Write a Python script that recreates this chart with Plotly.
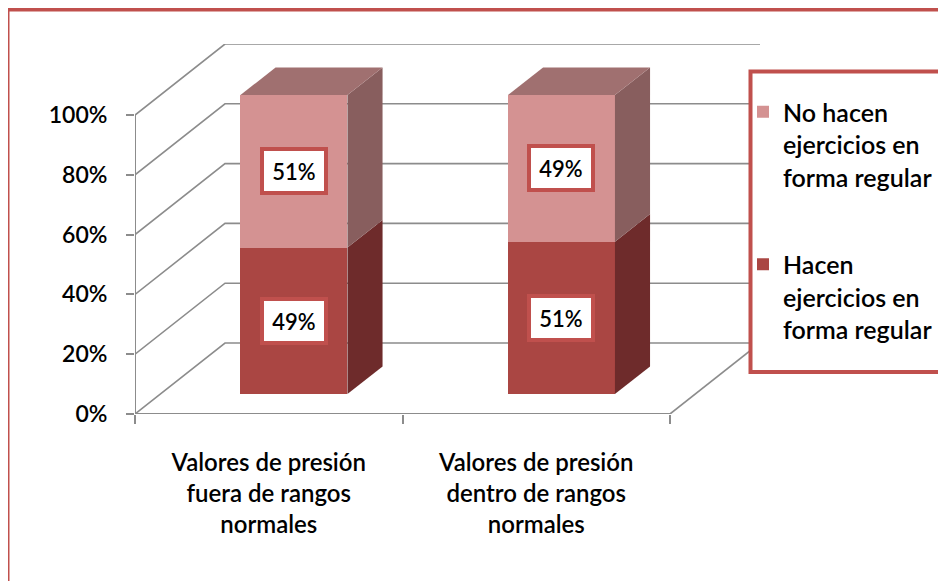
import plotly.graph_objects as go

# datos
categorias = [
    "Valores de presión<br>fuera de rangos<br>normales",
    "Valores de presión<br>dentro de rangos<br>normales",
]
hacen = [49, 51]
no_hacen = [51, 49]
nombre_hacen = "Hacen<br>ejercicios en<br>forma regular"
nombre_no_hacen = "No hacen<br>ejercicios en<br>forma regular"
ticks_y = [0, 20, 40, 60, 80, 100]

# geometria del "3D" (proyeccion oblicua en unidades de datos)
OFF = 8                  # margen del <body> de la pagina
L, T, PW, PH = 135 - OFF, 44 - OFF, 625, 370
PPU_X = 267.5
PPU_Y = 2.99
DX = 90 / PPU_X          # profundidad del piso en x
DY = 71 / PPU_Y          # profundidad del piso en y
DF, DB = 0.28, 0.67      # frente / fondo de las barras
BW = 0.4

ROJO = "#C0504D"
GRIS = "#8C8C8C"
C_HACEN = "#AA4643"
C_HACEN_LADO = "#6E2B2B"
C_NO = "#D49292"
C_NO_LADO = "#885E5E"
C_TAPA = "#A07070"
FUENTE = "Lato, 'Open Sans', sans-serif"
PESO = 600


def px_x(px):
    return (px - OFF - L) / PW


def px_y(py):
    return (T + PH - (py - OFF)) / PH


xs = list(range(len(categorias)))
x0, x1 = -0.5, len(categorias) - 0.5

fig = go.Figure()

# caras laterales y tapa
for i, h, n in zip(xs, hacen, no_hacen):
    xr_f = i + BW / 2 + DF * DX
    xr_b = i + BW / 2 + DB * DX
    xl_f = i - BW / 2 + DF * DX
    xl_b = i - BW / 2 + DB * DX
    for y0, y1, col in [(0, h, C_HACEN_LADO), (h, h + n, C_NO_LADO)]:
        fig.add_trace(go.Scatter(
            x=[xr_f, xr_f, xr_b, xr_b, xr_f],
            y=[y0 + DF * DY, y1 + DF * DY, y1 + DB * DY, y0 + DB * DY, y0 + DF * DY],
            fill="toself", fillcolor=col, mode="lines", line=dict(width=0),
            showlegend=False, hoverinfo="skip",
        ))
    top = h + n
    fig.add_trace(go.Scatter(
        x=[xl_f, xr_f, xr_b, xl_b, xl_f],
        y=[top + DF * DY, top + DF * DY, top + DB * DY, top + DB * DY, top + DF * DY],
        fill="toself", fillcolor=C_TAPA, mode="lines", line=dict(width=0),
        showlegend=False, hoverinfo="skip",
    ))

# caras frontales
fig.add_trace(go.Bar(
    x=[i + DF * DX for i in xs], y=hacen, base=[DF * DY] * len(xs),
    width=BW, marker=dict(color=C_HACEN, line=dict(width=0)),
    name=nombre_hacen, legendgroup="a", legendrank=2,
))
fig.add_trace(go.Bar(
    x=[i + DF * DX for i in xs], y=no_hacen, base=[DF * DY + h for h in hacen],
    width=BW, marker=dict(color=C_NO, line=dict(width=0)),
    name=nombre_no_hacen, legendgroup="b", legendrank=1,
))

# paredes: lineas de division (debajo de las barras)
shapes = []
for v in ticks_y:
    shapes.append(dict(
        type="path", xref="x", yref="y", layer="below",
        path=f"M{x0},{v} L{x0 + DX},{v + DY} L{x1 + DX},{v + DY}",
        line=dict(color=GRIS, width=1.6),
    ))
shapes.append(dict(type="line", xref="x", yref="y", layer="below",
                   x0=x0, y0=0, x1=x0, y1=ticks_y[-1], line=dict(color=GRIS, width=2)))
shapes.append(dict(type="line", xref="x", yref="y", layer="below",
                   x0=x0, y0=0, x1=x1, y1=0, line=dict(color=GRIS, width=2)))
shapes.append(dict(type="line", xref="x", yref="y", layer="below",
                   x0=x1, y0=0, x1=x1 + DX, y1=DY, line=dict(color=GRIS, width=1.6)))
# marco de la leyenda
shapes.append(dict(type="rect", xref="paper", yref="paper", layer="above",
                   x0=px_x(750.5), x1=px_x(943), y0=px_y(372), y1=px_y(71.5),
                   line=dict(color=ROJO, width=4), fillcolor="white"))
# marco exterior
shapes.append(dict(type="rect", xref="paper", yref="paper", layer="below",
                   x0=px_x(7.5), x1=px_x(960), y0=px_y(600), y1=px_y(9.5),
                   line=dict(color=ROJO, width=4)))

# etiquetas de datos
annotations = []
for i, h, n in zip(xs, hacen, no_hacen):
    for ym, v in [(h / 2, h), (h + n / 2, n)]:
        annotations.append(dict(
            x=i + DF * DX, y=ym + DF * DY, xref="x", yref="y",
            text=f"{v}%", showarrow=False,
            font=dict(family=FUENTE, size=22, color="black", weight=PESO),
            bgcolor="white", bordercolor=ROJO, borderwidth=4, borderpad=2,
            width=56, height=36,
        ))

fig.update_layout(
    width=946, height=581,
    margin=dict(l=L, r=946 - L - PW, t=T, b=581 - T - PH),
    paper_bgcolor="white", plot_bgcolor="rgba(0,0,0,0)",
    barmode="overlay", bargap=0,
    font=dict(family=FUENTE, color="black", weight=PESO),
    shapes=shapes, annotations=annotations,
    showlegend=True,
    legend=dict(
        x=px_x(743), y=px_y(89), xanchor="left", yanchor="top",
        traceorder="grouped", tracegroupgap=52, valign="top",
        font=dict(size=25, family=FUENTE, color="black", weight=PESO),
        bgcolor="rgba(0,0,0,0)", borderwidth=0,
    ),
    xaxis=dict(
        range=[x0, x1 + DX], showgrid=False, zeroline=False, showline=False,
        tickvals=xs, ticktext=categorias,
        ticks="", tickfont=dict(size=24, weight=PESO),
        ticklabelstandoff=32,
        minor=dict(tickvals=[x0 + k for k in range(len(categorias) + 1)],
                   ticks="outside", ticklen=9, tickcolor=GRIS, tickwidth=2),
    ),
    yaxis=dict(
        range=[0, 100 + DY], showgrid=False, zeroline=False, showline=False,
        tickvals=ticks_y, ticktext=[f"{v}%" for v in ticks_y],
        ticks="outside", ticklen=8, tickcolor=GRIS, tickwidth=2,
        tickfont=dict(size=23, weight=PESO), ticklabelstandoff=14,
    ),
)

fig.write_html("out.html")
